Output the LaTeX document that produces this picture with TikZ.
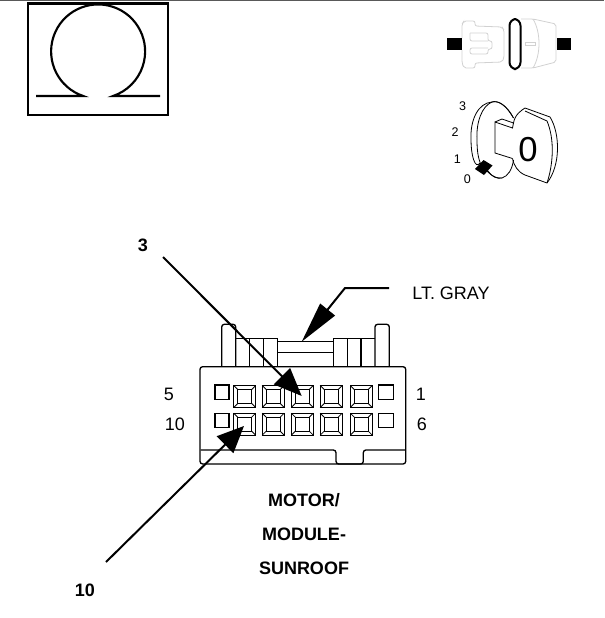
\documentclass[tikz,border=0pt]{standalone}
\usepackage{fontspec}
\setmainfont{Liberation Sans}
\usetikzlibrary{arrows.meta}
\definecolor{FaintGray}{gray}{0.82}
\definecolor{TopBar}{gray}{0.35}
\tikzset{
  part/.style={line width=1pt,black},
  pointer/.style={line width=1.5pt,black},
  faint/.style={line width=.6pt,FaintGray,rounded corners=1.5pt},
  thinkey/.style={line width=.6pt,black},
  pinlabel/.style={font=\fontsize{13.5pt}{15pt}\selectfont},
  namelabel/.style={font=\fontsize{13.5pt}{15pt}\selectfont\bfseries},
  keylabel/.style={font=\fontsize{9.4pt}{11pt}\selectfont}
}

\begin{document}
\begin{tikzpicture}[x=.75pt,y=-.75pt]
\useasboundingbox (0,0) rectangle (604,618);
\def\pinsize{11}
\def\pinhole{7}

% bar along the top
\fill[TopBar] (0,0) rectangle (604,1.3);

% ohm symbol
\draw[line width=1.6pt] (28,3.5) rectangle (168,115);
\draw[line width=1.6pt] (36,96) -- (83.2,96) arc (-251.5:71.5:47) -- (160,96);

% in-line connector
\draw[faint] (462,38) -- (462,24) -- (464,21) -- (475,21) -- (475,26) -- (502,27) -- (504,30) -- (504,58) -- (502,62) -- (475,63) -- (475,68) -- (464,68) -- (462,63) -- (462,50);
\draw[faint] (470,33) -- (488,33) -- (488,41) -- (492,41) -- (492,49) -- (488,49) -- (488,54) -- (470,54) -- (470,48) -- (488,48);
\draw[faint] (470,33) -- (470,41) -- (488,41);
\draw[faint] (521,19) -- (533,19) -- (556,24) -- (556,62) -- (533,68) -- (521,68);
\draw[FaintGray,line width=.6pt] (533,19) .. controls (541,32) and (541,55) .. (533,68);
\draw[FaintGray,line width=.6pt] (525,42) rectangle (535,45);
\fill (446.7,38.3) rectangle (461.7,50);
\fill (556.7,38.3) rectangle (571.3,50);
\draw[line width=1.5pt,rounded corners=5pt] (509.5,19) rectangle (520.5,69);

% ignition key
\draw[thinkey] (513.5,118) .. controls (507,105) and (497,100) .. (492,102) .. controls (478,103) and (470,120) .. (471,140) .. controls (471,155) and (475,170) .. (480,163);
\draw[thinkey] (513.5,118) .. controls (507,107) and (500,100) .. (492,102) .. controls (482,106) and (476,122) .. (477,140) .. controls (477,150) and (478,158) .. (481,165);
\draw[thinkey] (488,171) .. controls (492,177) and (497,179) .. (502,178) .. controls (508,176) and (512,170) .. (513.5,160);
\draw[thinkey] (483,166) .. controls (487,172) and (494,179) .. (502,178);
\draw[thinkey] (495,122) -- (502,119) -- (513.5,123) -- (512.5,128) -- (495,122) -- (495,153) -- (512.5,158.5);
\draw[thinkey] (513.5,123) .. controls (515,114) and (522,110) .. (525,108) -- (550,117) .. controls (560,133) and (561,165) .. (547,183) -- (525,175) .. controls (518,172) and (514,166) .. (512.5,158.5);
\draw[thinkey] (525,111) -- (547,121) .. controls (555,140) and (553,165) .. (547,183);
\fill (483.5,160) -- (492.5,165.5) -- (484,175) -- (475,169) -- cycle;
\node[inner sep=0pt,font=\fontsize{26pt}{28pt}\selectfont] (keyletter) at (528,150) {0};
\node[keylabel,inner sep=0pt] (pos3) at (462.7,106) {3};
\node[keylabel,inner sep=0pt] (pos2) at (455,132.3) {2};
\node[keylabel,inner sep=0pt] (pos1) at (457.3,159) {1};
\node[keylabel,inner sep=0pt] (pos0) at (467.3,179.3) {0};

% connector body
\draw[part,rounded corners=2pt] (221.7,366.7) -- (221.7,324.3) -- (235.7,324.3) -- (235.7,366.7);
\draw[part,rounded corners=2pt] (375,366.7) -- (375,324.3) -- (389.3,324.3) -- (389.3,366.7);
\draw[part] (235.7,338.3) -- (277.7,338.3) -- (277.7,366.7);
\draw[part] (375,338.3) -- (333.3,338.3) -- (333.3,366.7);
\foreach \x in {249.5,263.5,347.3,361}
  \draw[part] (\x,338.3) -- (\x,366.7);
\draw[part] (277.7,341.7) -- (333.3,341.7);
\draw[part] (277.7,352.3) -- (333.3,352.3);
\draw[part,fill=white,rounded corners=2pt] (200,366.7) rectangle (405.7,464);
\draw[part,rounded corners=2pt] (200.5,450) -- (336,450) -- (336,464) -- (363.3,464) -- (363.3,450) -- (405.2,450);

% cavities
\foreach \y in {392.2,420.5} {
  \draw[part] (215,\y-7.2) rectangle (229,\y+7.2);
  \draw[part] (378.7,\y-7.2) rectangle (393.3,\y+7.2);
}
\foreach \x in {244.7,273.2,302.3,331.2,361.3}
  \foreach \y in {396.5,424.2} {
    \draw[part] (\x-\pinsize,\y-\pinsize) rectangle (\x+\pinsize,\y+\pinsize);
    \draw[part] (\x-\pinhole,\y-\pinhole) rectangle (\x+\pinhole,\y+\pinhole);
    \draw[line width=.6pt] (\x-\pinsize,\y-\pinsize) -- (\x-\pinhole,\y-\pinhole)
      (\x+\pinsize,\y-\pinsize) -- (\x+\pinhole,\y-\pinhole)
      (\x-\pinsize,\y+\pinsize) -- (\x-\pinhole,\y+\pinhole)
      (\x+\pinsize,\y+\pinsize) -- (\x+\pinhole,\y+\pinhole);
  }

% pointers
\coordinate (pinthree) at (301.7,396);
\coordinate (pinten) at (244,426);
\coordinate (latch) at (301.7,341.7);
\coordinate (threefoot) at (163,257);
\coordinate (tenfoot) at (106,562);
\coordinate (grayend) at (389,288);
\coordinate (graybend) at (345,288);
\draw[pointer,-{Triangle[length=21pt,width=17pt,sep=0pt]}] (threefoot) -- (pinthree);
\draw[pointer,-{Triangle[length=20pt,width=17.5pt,sep=0pt]}] (tenfoot) -- (pinten);
\draw[pointer,-{Triangle[length=31pt,width=14pt,sep=0pt]}] (grayend) -- (graybend) -- (latch);

% labels
\node[pinlabel,inner sep=0pt] (five) at (169,394) {5};
\node[pinlabel,inner sep=0pt] (ten) at (175,424) {10};
\node[pinlabel,inner sep=0pt] (one) at (421,394) {1};
\node[pinlabel,inner sep=0pt] (six) at (422,424) {6};
\node[pinlabel,inner sep=0pt] (ltgray) at (451,293) {LT. GRAY};
\node[namelabel,inner sep=0pt] (tagthree) at (143,245) {3};
\node[namelabel,inner sep=0pt] (tagten) at (85,590) {10};
\node[namelabel,inner sep=0pt] (motor) at (304,500) {MOTOR/};
\node[namelabel,inner sep=0pt] (module) at (304,534) {MODULE-};
\node[namelabel,inner sep=0pt] (sunroof) at (304,568) {SUNROOF};

\end{tikzpicture}
\end{document}
